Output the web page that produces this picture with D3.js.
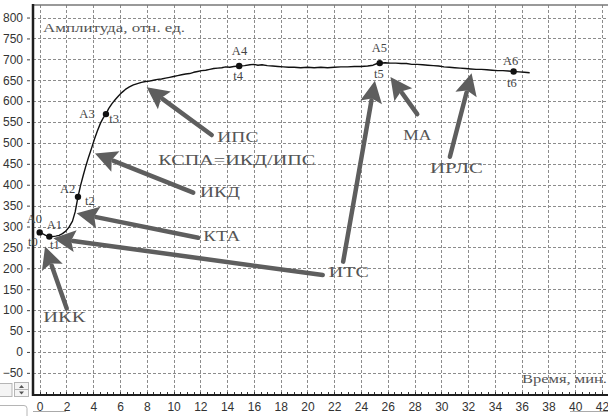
<!DOCTYPE html>
<html>
<head>
<meta charset="utf-8">
<script src="https://cdn.jsdelivr.net/npm/d3@7"></script>
<style>
  html, body { margin: 0; padding: 0; background: #fff; }
  svg { display: block; }
</style>
</head>
<body>
<svg id="chart" width="608" height="416"></svg>
<script>
// Recorded amplitude curve: time (min) and amplitude (rel. units)
const timeMin = [
  0, 0.2, 0.45, 0.72, 0.95, 1.2, 1.45, 1.7, 1.95, 2.2, 2.45, 2.65, 2.86, 3.05, 3.25, 3.45, 3.65, 3.9,
  4.1, 4.3, 4.55, 4.75, 4.95, 5.15, 5.4, 5.65, 5.9, 6.15, 6.4, 6.7, 7.0, 7.3, 7.6, 7.9, 8.2, 8.5, 8.8,
  9.1, 9.4, 9.7, 10.0, 10.3, 10.6, 10.9, 11.2, 11.5, 11.8, 12.1, 12.4, 12.7, 13.0, 13.3, 13.6, 13.9,
  14.2, 14.5, 14.9, 15.3, 15.7, 16.0, 16.3, 16.6, 17.0, 17.4, 17.8, 18.2, 18.6, 19.0, 19.5, 20.0, 20.5,
  21.0, 21.5, 22.0, 22.5, 23.0, 23.5, 24.0, 24.5, 24.9, 25.2, 25.4, 25.8, 26.2, 26.6, 27.0, 27.4, 27.8,
  28.2, 28.6, 29.0, 29.4, 29.8, 30.2, 30.6, 31.0, 31.4, 31.8, 32.2, 32.6, 33.0, 33.4, 33.8, 34.2, 34.6,
  35.0, 35.4, 35.8, 36.2, 36.6
];
const amplitude = [
  286, 283, 279, 276, 276, 277, 279, 283, 289, 299, 313, 335, 371, 398, 422, 445, 466, 490,
  510, 528, 548, 560, 569, 582, 594, 604, 613, 621, 628, 634, 639, 642, 645, 647, 648, 650, 652,
  653, 655, 657, 659, 661, 663, 665, 666, 669, 671, 673, 674, 676, 678, 679, 680, 682,
  681, 683, 684, 685, 687, 688, 686, 687, 685, 684, 683, 682, 681, 681, 680, 681, 680,
  681, 680, 681, 682, 682, 683, 683, 684, 686, 690, 691, 692, 691, 691, 690, 690, 688,
  688, 687, 686, 685, 684, 682, 681, 680, 679, 678, 677, 676, 676, 675, 674, 673, 673,
  672, 671, 670, 669, 668
];

// Characteristic points A0..A6 / t0..t6
const pointIndex = ["0", "1", "2", "3", "4", "5", "6"];
const pointTime = [0, 0.72, 2.86, 4.95, 14.9, 25.4, 35.4];
const pointAmp = [286, 276, 371, 569, 684, 691, 671];

// Axis ticks
const yTicks = [-50, 0, 50, 100, 150, 200, 250, 300, 350, 400, 450, 500, 550, 600, 650, 700, 750, 800];
const xTicks = [0, 2, 4, 6, 8, 10, 12, 14, 16, 18, 20, 22, 24, 26, 28, 30, 32, 34, 36, 38, 40, 42];

// Annotation labels and their arrows, anchored in (time, amplitude) units
const noteText = ["ИПС", "КСПА=ИКД/ИПС", "ИКД", "КТА", "ИТС", "ИКК", "МА", "ИРЛС"];
const noteTime = [13.27, 8.86, 11.97, 12.22, 21.6, 0.27, 27.16, 29.15];
const noteAmp = [503, 447, 370, 266, 179, 72, 507, 427];
const arrowFromTime = [12.85, 11.47, 11.84, 21.14, 22.67, 2.02, 28.2, 30.64];
const arrowFromAmp = [519, 381, 273, 184, 216, 104, 569, 467];
const arrowToTime = [7.99, 4.13, 2.76, 1.02, 25.04, 0.40, 26.2, 32.26];
const arrowToAmp = [633, 475, 332, 272, 649, 252, 658, 667];

// ---- layout ----
const W = 608, H = 416;
const plot = { left: 33, right: 608, top: 5, bottom: 395 };
const noteWidths = [41, 157, 40, 37, 40, 42, 28, 53];
// offsets of the A/t point labels from their marker (px)
const aOffset = [[-13, -9.6], [-2.6, -7.4], [-18, -4], [-26.6, 4.3], [-7.3, -11], [-8, -11.3], [-10.7, -6.4]];
const tOffset = [[-11.7, 13.7], [0.7, 12.6], [7, 8.3], [3.4, 9], [-6, 14], [-5.8, 15], [-6.7, 15.3]];

const svg = d3.select("#chart");

const x = d3.scaleLinear().domain([-0.5, 42.45]).range([plot.left, plot.right]);
const y = d3.scaleLinear().domain([-103, 830]).range([plot.bottom, plot.top]);

// dashed grid
const grid = svg.append("g").attr("stroke", "#8c8c8c").attr("stroke-width", 1)
  .attr("stroke-dasharray", "3,2").attr("fill", "none");
grid.selectAll("line.h").data(yTicks).join("line").attr("class", "h")
  .attr("x1", plot.left).attr("x2", plot.right)
  .attr("y1", d => Math.round(y(d)) + 0.5).attr("y2", d => Math.round(y(d)) + 0.5);
grid.selectAll("line.v").data(xTicks).join("line").attr("class", "v")
  .attr("y1", plot.top).attr("y2", plot.bottom)
  .attr("x1", d => Math.round(x(d)) + 0.5).attr("x2", d => Math.round(x(d)) + 0.5);

// frame top
svg.append("line").attr("x1", plot.left).attr("x2", plot.right)
  .attr("y1", plot.top).attr("y2", plot.top).attr("stroke", "#777").attr("stroke-width", 1.5);

// y axis
const yAxis = d3.axisLeft(y).tickValues(yTicks).tickSize(3).tickPadding(4);
const gy = svg.append("g").attr("transform", `translate(${plot.left - 3},0)`).call(yAxis);
gy.select(".domain").remove();
gy.selectAll("text").attr("font-family", "'Liberation Sans', Arial, sans-serif")
  .attr("font-size", 12).attr("fill", "#333");
gy.selectAll(".tick line").attr("stroke", "#444");
svg.append("line").attr("x1", plot.left).attr("x2", plot.left)
  .attr("y1", plot.top - 1).attr("y2", plot.bottom + 1).attr("stroke", "#1e1e1e").attr("stroke-width", 2.5);

// x axis with minor ticks every half minute
const minor = d3.range(0, 42.5, 0.5);
svg.append("g").selectAll("line").data(minor).join("line")
  .attr("x1", d => Math.round(x(d)) + 0.5).attr("x2", d => Math.round(x(d)) + 0.5)
  .attr("y1", plot.bottom - 3).attr("y2", plot.bottom)
  .attr("stroke", "#333").attr("stroke-width", 1);
const xAxis = d3.axisBottom(x).tickValues(xTicks).tickSize(0).tickPadding(7).tickFormat(d3.format("d"));
const gx = svg.append("g").attr("transform", `translate(0,${plot.bottom})`).call(xAxis);
gx.select(".domain").remove();
gx.selectAll("text").attr("font-family", "'Liberation Sans', Arial, sans-serif")
  .attr("font-size", 12).attr("fill", "#333");
svg.append("line").attr("x1", plot.left - 1).attr("x2", plot.right)
  .attr("y1", plot.bottom).attr("y2", plot.bottom).attr("stroke", "#1e1e1e").attr("stroke-width", 2);

// axis titles
const serif = "'Liberation Serif', 'Times New Roman', serif";
svg.append("text").attr("x", 43).attr("y", 31.5).text("Амплитуда, отн. ед.")
  .attr("font-family", serif).attr("font-size", 13).attr("fill", "#555")
  .attr("textLength", 142).attr("lengthAdjust", "spacingAndGlyphs");
svg.append("text").attr("x", 522).attr("y", 383).text("Время, мин.")
  .attr("font-family", serif).attr("font-size", 13).attr("fill", "#555")
  .attr("textLength", 85).attr("lengthAdjust", "spacingAndGlyphs");

// curve
const series = timeMin.map((t, i) => [t, amplitude[i]]);
svg.append("path").datum(series)
  .attr("fill", "none").attr("stroke", "#111").attr("stroke-width", 1.4)
  .attr("stroke-linejoin", "round")
  .attr("d", d3.line().x(d => x(d[0])).y(d => y(d[1])));

// characteristic points
const pts = pointTime.map((t, i) => ({ t, v: pointAmp[i], n: pointIndex[i], i }));
svg.append("g").selectAll("circle").data(pts).join("circle")
  .attr("cx", d => x(d.t)).attr("cy", d => y(d.v)).attr("r", 3.2).attr("fill", "#111");
const lab = svg.append("g").attr("font-family", serif).attr("font-size", 12.5).attr("fill", "#444");
lab.selectAll("text.a").data(pts).join("text").attr("class", "a")
  .attr("x", d => x(d.t) + aOffset[d.i][0]).attr("y", d => y(d.v) + aOffset[d.i][1])
  .text(d => "A" + d.n);
lab.selectAll("text.t").data(pts).join("text").attr("class", "t")
  .attr("x", d => x(d.t) + tOffset[d.i][0]).attr("y", d => y(d.v) + tOffset[d.i][1])
  .text(d => "t" + d.n);

// annotation arrows
const arrowColor = "#5e5e5e";
const arrows = svg.append("g");
noteText.forEach((_, i) => {
  const x0 = x(arrowFromTime[i]), y0 = y(arrowFromAmp[i]);
  const x1 = x(arrowToTime[i]), y1 = y(arrowToAmp[i]);
  const dx = x1 - x0, dy = y1 - y0, len = Math.hypot(dx, dy);
  const ux = dx / len, uy = dy / len;
  const headLen = 22, headHalf = 11;
  const bx = x1 - ux * headLen, by = y1 - uy * headLen;
  arrows.append("line").attr("x1", x0).attr("y1", y0).attr("x2", bx + ux * 2).attr("y2", by + uy * 2)
    .attr("stroke", arrowColor).attr("stroke-width", 4.5).attr("stroke-linecap", "round");
  arrows.append("path")
    .attr("d", `M${x1},${y1}L${bx - uy * headHalf},${by + ux * headHalf}L${bx + ux * 4},${by + uy * 4}L${bx + uy * headHalf},${by - ux * headHalf}Z`)
    .attr("fill", arrowColor);
});

// annotation labels
svg.append("g").selectAll("text").data(noteText).join("text")
  .attr("x", (d, i) => x(noteTime[i])).attr("y", (d, i) => y(noteAmp[i]))
  .attr("font-family", serif).attr("font-size", 15).attr("fill", "#555")
  .attr("textLength", (d, i) => noteWidths[i]).attr("lengthAdjust", "spacingAndGlyphs")
  .text(d => d);

// scroll/zoom controls along the bottom-left edge
const ui = svg.append("g").attr("fill", "#f4f4f4").attr("stroke", "#b5b5b5").attr("stroke-width", 1);
ui.append("rect").attr("x", -2).attr("y", 383.5).attr("width", 14).attr("height", 13);
ui.append("rect").attr("x", 14.5).attr("y", 382.5).attr("width", 14).attr("height", 7);
ui.append("rect").attr("x", 14.5).attr("y", 389.5).attr("width", 14).attr("height", 7);
svg.append("path").attr("d", "M19,388L21.5,385L24,388Z M19,391.5L21.5,394.5L24,391.5Z").attr("fill", "#555");
ui.append("rect").attr("x", -3).attr("y", 405.5).attr("width", 30).attr("height", 16).attr("rx", 3).attr("fill", "#fff");
svg.append("line").attr("x1", 33).attr("x2", 66).attr("y1", 411.5).attr("y2", 411.5).attr("stroke", "#aaa");
svg.append("line").attr("x1", 570).attr("x2", 608).attr("y1", 411.5).attr("y2", 411.5).attr("stroke", "#aaa");
</script>
</body>
</html>
